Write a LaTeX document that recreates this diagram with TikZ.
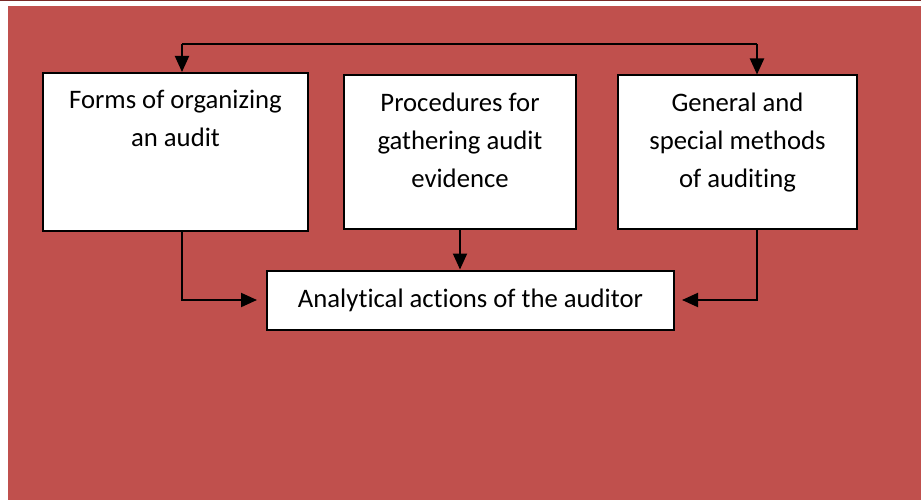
\documentclass[tikz,border=0pt]{standalone}
\usepackage{fontspec}
\setmainfont{Carlito}[Ligatures=NoCommon]
\usetikzlibrary{arrows.meta, positioning}

\definecolor{slidered}{HTML}{C0504D}
\definecolor{edgered}{HTML}{7A2A28}

\begin{document}
\begin{tikzpicture}[
  x=1pt, y=-1pt,
  >={Triangle[length=16pt, width=14pt]}, line width=2pt,
  block/.style   = {draw, fill=white, rectangle, inner sep=0pt},
  boxtext/.style = {align=center, inner sep=0pt, font=\fontsize{26.7}{38}\selectfont},
]
  \useasboundingbox (0,0) rectangle (921,500);
  \fill[slidered] (8,6) rectangle (921,500);
  \draw[edgered, line width=1.5pt] (0,0.75) -- (921,0.75);

  \node[block, minimum width=265pt, minimum height=158pt] at (175.5,152) (forms) {};
  \node[block, minimum width=232pt, minimum height=153pt, right=34pt of forms] (proc) {};
  \node[block, minimum width=239pt, minimum height=153pt, right=40pt of proc]  (meth) {};
  \node[block, minimum width=407pt, minimum height=59pt, below=40pt of proc, xshift=10.5pt,
        font=\fontsize{26.7}{38}\selectfont] (anal) {Analytical actions of the auditor};

  \node[boxtext, below=17pt of forms.north] (forms-t) {Forms of organizing\\an audit};
  \node[boxtext, below=17pt of proc.north]  (proc-t)  {Procedures for\\gathering audit\\evidence};
  \node[boxtext, below=17pt of meth.north]  (meth-t)  {General and\\special methods\\of auditing};

  \coordinate (split-l) at (182,44);
  \coordinate (split-r) at (757,44);

  \draw (split-l) -- (split-r);
  \draw[->] (split-l) -- (split-l |- forms.north);
  \draw[->] (split-r) -- (split-r |- meth.north);

  \draw[->, shorten >=9pt] (split-l |- forms.south) |- (anal.west);
  \draw[->] (proc.south) -- (proc.south |- anal.north);
  \draw[->, shorten >=7pt] (split-r |- meth.south) |- (anal.east);
\end{tikzpicture}
\end{document}
